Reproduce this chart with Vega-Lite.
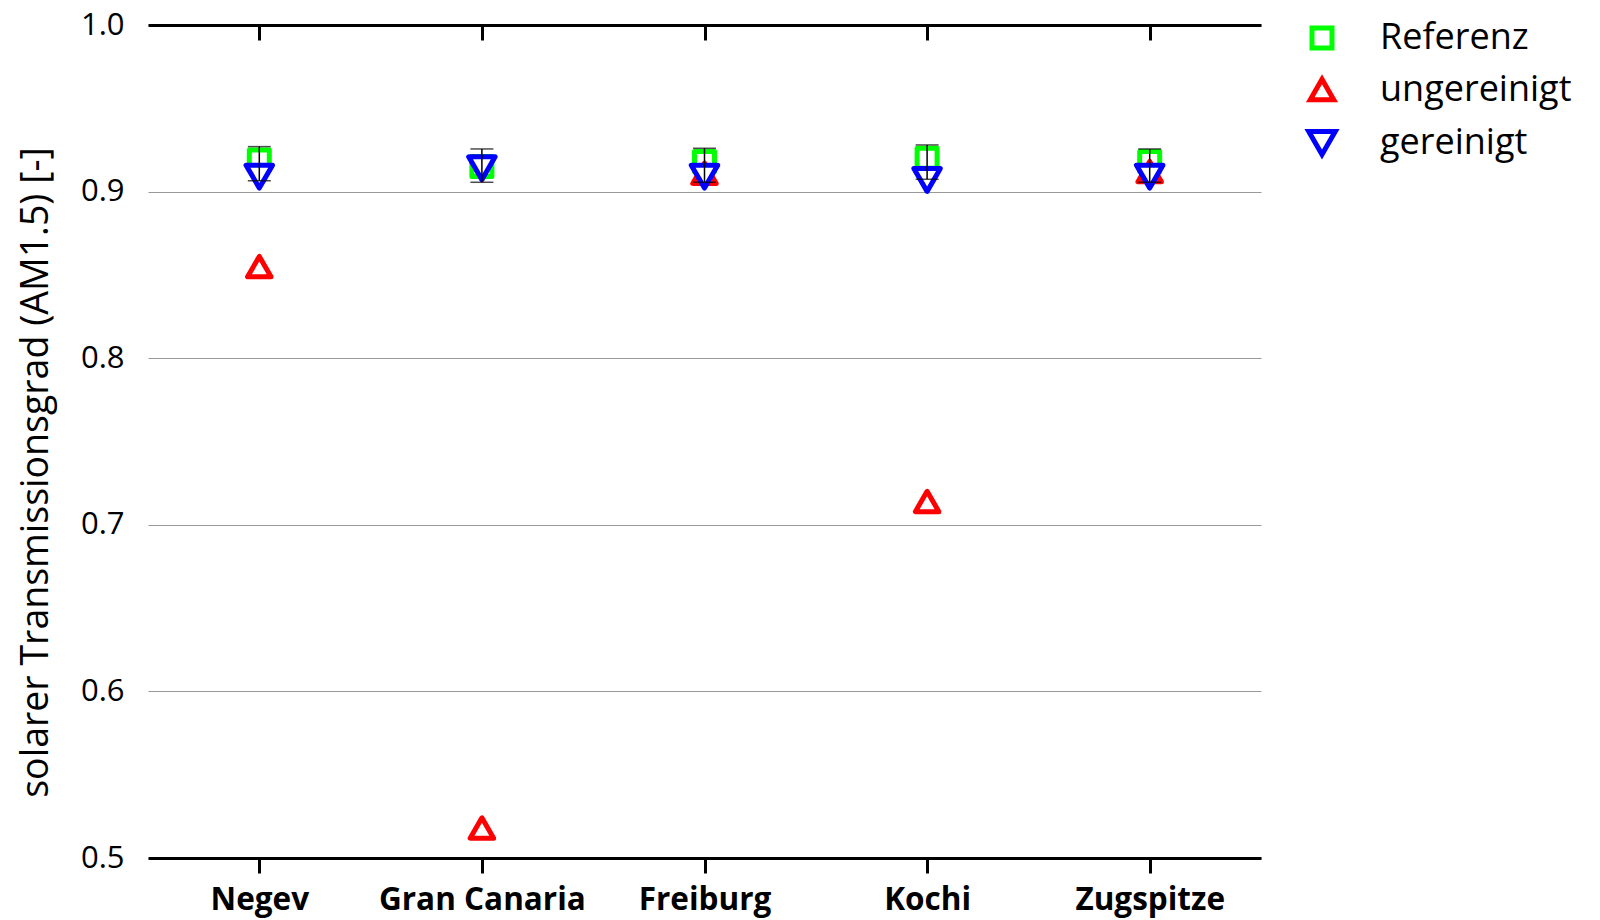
{
  "$schema": "https://vega.github.io/schema/vega-lite/v6.json",
  "autosize": "none",
  "width": 1113,
  "height": 833,
  "padding": {"left": 148, "top": 25, "right": 339, "bottom": 62},
  "background": "white",
  "config": {
    "font": "Open Sans",
    "view": {"stroke": null}
  },
  "resolve": {"axis": {"x": "independent"}},
  "datasets": {
    "pts": [
      {"site": "Negev", "series": "Referenz", "value": 0.919},
      {"site": "Gran Canaria", "series": "Referenz", "value": 0.915},
      {"site": "Freiburg", "series": "Referenz", "value": 0.918},
      {"site": "Kochi", "series": "Referenz", "value": 0.920},
      {"site": "Zugspitze", "series": "Referenz", "value": 0.918},
      {"site": "Negev", "series": "ungereinigt", "value": 0.855},
      {"site": "Gran Canaria", "series": "ungereinigt", "value": 0.518},
      {"site": "Freiburg", "series": "ungereinigt", "value": 0.911},
      {"site": "Kochi", "series": "ungereinigt", "value": 0.714},
      {"site": "Zugspitze", "series": "ungereinigt", "value": 0.912},
      {"site": "Negev", "series": "gereinigt", "value": 0.909},
      {"site": "Gran Canaria", "series": "gereinigt", "value": 0.914},
      {"site": "Freiburg", "series": "gereinigt", "value": 0.909},
      {"site": "Kochi", "series": "gereinigt", "value": 0.907},
      {"site": "Zugspitze", "series": "gereinigt", "value": 0.909}
    ],
    "err": [
      {"site": "Negev", "low": 0.9065, "high": 0.927},
      {"site": "Gran Canaria", "low": 0.9056, "high": 0.9256},
      {"site": "Freiburg", "low": 0.9056, "high": 0.926},
      {"site": "Kochi", "low": 0.9074, "high": 0.928},
      {"site": "Zugspitze", "low": 0.9056, "high": 0.9256}
    ]
  },
  "layer": [
    {
      "data": {"name": "pts"},
      "mark": {"type": "point", "filled": false, "fill": "white", "fillOpacity": 1, "opacity": 1, "strokeWidth": 5, "strokeJoin": "round"},
      "encoding": {
        "x": {
          "field": "site", "type": "nominal",
          "sort": ["Negev", "Gran Canaria", "Freiburg", "Kochi", "Zugspitze"],
          "scale": {"type": "point", "padding": 0.5},
          "axis": {
            "orient": "bottom",
            "title": null, "labelAngle": 0, "labelFontSize": 31.5, "labelFontWeight": "bold", "labelLimit": 0,
            "labelColor": "black", "labelPadding": 11, "domainColor": "black", "domainWidth": 3,
            "tickColor": "black", "tickWidth": 3, "tickSize": 15, "grid": false
          }
        },
        "y": {
          "field": "value", "type": "quantitative",
          "scale": {"domain": [0.5, 1.0], "nice": false, "zero": false},
          "axis": {
            "title": "solarer Transmissionsgrad (AM1.5) [-]",
            "titleFontSize": 37.5, "titleFontWeight": "normal", "titleColor": "black", "titlePadding": 25, "titleY": 447,
            "values": [0.5, 0.6, 0.7, 0.8, 0.9, 1.0], "format": ".1f",
            "labelFontSize": 31, "labelColor": "black", "labelPadding": 24,
            "ticks": false, "domain": false,
            "grid": true, "gridColor": "#999999", "gridWidth": 1.2
          }
        },
        "stroke": {
          "field": "series", "type": "nominal",
          "scale": {"domain": ["Referenz", "ungereinigt", "gereinigt"], "range": ["#00ff00", "#ff0000", "#0000ff"]},
          "legend": {
            "title": null, "orient": "none", "legendX": 1156, "legendY": -5,
            "labelFontSize": 36, "labelColor": "black", "labelOffset": 40, "rowPadding": 10.5, "labelLimit": 0,
            "symbolStrokeWidth": 5, "symbolFillColor": "white"
          }
        },
        "shape": {
          "field": "series", "type": "nominal",
          "scale": {"domain": ["Referenz", "ungereinigt", "gereinigt"], "range": ["square", "triangle-up", "triangle-down"]}
        },
        "size": {
          "field": "series", "type": "nominal",
          "scale": {"domain": ["Referenz", "ungereinigt", "gereinigt"], "range": [400, 700, 700]}
        }
      }
    },
    {
      "data": {"name": "err"},
      "mark": {"type": "rule", "color": "black", "strokeWidth": 1.5},
      "encoding": {
        "x": {"field": "site", "type": "nominal", "sort": ["Negev", "Gran Canaria", "Freiburg", "Kochi", "Zugspitze"], "axis": null},
        "y": {"field": "low", "type": "quantitative"},
        "y2": {"field": "high"}
      }
    },
    {
      "data": {"name": "err"},
      "mark": {"type": "tick", "color": "black", "size": 23, "thickness": 1.5, "orient": "horizontal"},
      "encoding": {
        "x": {"field": "site", "type": "nominal", "sort": ["Negev", "Gran Canaria", "Freiburg", "Kochi", "Zugspitze"], "axis": null},
        "y": {"field": "low", "type": "quantitative"}
      }
    },
    {
      "data": {"name": "err"},
      "mark": {"type": "tick", "color": "black", "size": 23, "thickness": 1.5, "orient": "horizontal"},
      "encoding": {
        "x": {
          "field": "site", "type": "nominal", "sort": ["Negev", "Gran Canaria", "Freiburg", "Kochi", "Zugspitze"],
          "axis": {"orient": "top", "title": null, "labels": false, "domainColor": "black", "domainWidth": 3,
                   "tickColor": "black", "tickWidth": 3, "tickSize": -15, "grid": false}
        },
        "y": {"field": "high", "type": "quantitative"}
      }
    }
  ]
}
